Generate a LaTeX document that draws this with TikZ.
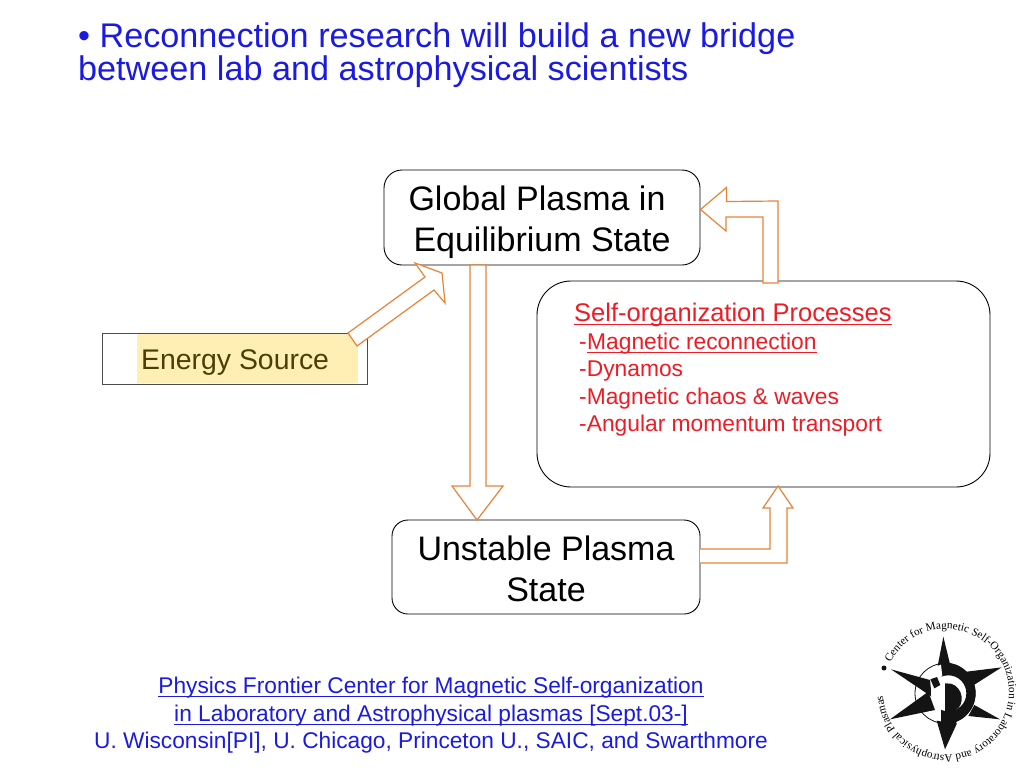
\documentclass[tikz,border=0pt]{standalone}
\usepackage{fontspec}
\setmainfont{Liberation Sans}
\newfontfamily\logofont{Liberation Serif}
\usetikzlibrary{positioning,calc,decorations.text}
\definecolor{sl-blue}{HTML}{1A1AE0}
\definecolor{sl-red}{HTML}{EE1C25}
\definecolor{sl-orange}{HTML}{E8833A}
\definecolor{sl-sand}{HTML}{FFEFB5}
\definecolor{sl-olive}{HTML}{4A3F05}
\definecolor{sl-ink}{HTML}{141414}

\begin{document}
\begin{tikzpicture}[
  x=1pt,y=-1pt,
  statebox/.style={draw=black,line width=0.9pt,fill=white,inner sep=0pt},
  statetxt/.style={inner sep=0pt,align=center,font=\fontsize{34}{41}\selectfont},
  blockar/.style={draw=sl-orange,line width=1.2pt,fill=white,line join=miter},
  titletxt/.style={anchor=base west,text=sl-blue,inner sep=0pt,font=\fontsize{34.2}{33}\selectfont},
  redtxt/.style={anchor=base west,text=sl-red,inner sep=0pt,font=\fontsize{22.8}{27}\selectfont},
  linktxt/.style={anchor=base,text=sl-blue,inner sep=0pt,font=\fontsize{22.7}{28}\selectfont},
  ulred/.style={draw=sl-red,line width=1pt},
  ulblue/.style={draw=sl-blue,line width=1pt},
  logoblack/.style={fill=sl-ink,draw=none}
]
\useasboundingbox (0,0) rectangle (1024,768);

% title
\node[titletxt] (tone) at (78,48) {\textbullet\ Reconnection research will build a new bridge};
\node[titletxt] (ttwo) at (78,80) {between lab and astrophysical scientists};

% energy source
\node[draw=black!70,line width=0.9pt,minimum width=265pt,minimum height=51pt,inner sep=0pt] (src) at (234.5,358.5) {};
\node[fill=sl-sand,minimum width=221pt,minimum height=49pt,inner sep=0pt] (srcfill) at (247.5,358.5) {};
\node[anchor=base west,text=sl-olive,inner sep=0pt,font=\fontsize{28.4}{30}\selectfont] (srctxt) at (141,369) {Energy Source};

% plasma states
\node[statebox,rounded corners=18pt,minimum width=316pt,minimum height=95pt] (gp) at (542,217.5) {};
\node[statetxt] (gptxt) at (542,222) {Global Plasma in\hbox to 10pt{}\\ Equilibrium State};
\node[statebox,rounded corners=16pt,minimum width=308pt,minimum height=94pt] (us) at (546,567) {};
\node[statetxt] (ustxt) at (546,569) {Unstable Plasma\\ State};
\node[statebox,rounded corners=34pt,minimum width=453pt,minimum height=206pt] (so) at (763.5,384) {};

% processes
\node[redtxt,font=\fontsize{25.5}{30}\selectfont] (sohead) at (574,321) {Self-organization Processes};
\node[redtxt] (soadash) at (579,349) {-};
\node[redtxt] (soa) at (soadash.base east) {Magnetic reconnection};
\node[redtxt] (sob) at (579,376) {-Dynamos};
\node[redtxt] (soc) at (579,404) {-Magnetic chaos \& waves};
\node[redtxt] (sod) at (579,431) {-Angular momentum transport};
\draw[ulred] ([yshift=-3.5pt]sohead.base west) -- ([yshift=-3.5pt]sohead.base east);
\draw[ulred] ([yshift=-3pt]soa.base west) -- ([yshift=-3pt]soa.base east);

% block arrows
\draw[blockar] (gp.east) ++(0,-8) coordinate (gptip) -- ++(26,-22) -- ++(0,14) -- (778,201)
  -- (778,283) -- (763,283) -- (763,217) -- (726,217) -- (726,231) -- cycle;
\draw[blockar] (470,265) -- (470,486) -- (452,486) -- (477,520) coordinate (ustip) -- (503,486) -- (486,486) -- (486,265) -- cycle;
\draw[blockar] (700,549) -- (770,549) -- (770,508) -- (763,508) -- (778,486) coordinate (sotip)
  -- (793,508) -- (787,508) -- (787,563) -- (700,563);
\draw[blockar] (348,333) -- (425,277) -- (415,263) -- (442,273) coordinate (eptip) -- (445,303) -- (434,290) -- (357,346) -- cycle;

% footer
\node[linktxt] (fa) at (431,693) {Physics Frontier Center for Magnetic Self-organization};
\node[linktxt] (fb) at (431,721) {in Laboratory and Astrophysical plasmas [Sept.03-]};
\node[linktxt] (fc) at (431,748) {U. Wisconsin[PI], U. Chicago, Princeton U., SAIC, and Swarthmore};
\draw[ulblue] ([yshift=-3.5pt]fa.base west) -- ([yshift=-3.5pt]fa.base east);
\draw[ulblue] ([yshift=-3pt]fb.base west) -- ([yshift=-3pt]fb.base east);

% logo
\begin{scope}[shift={(885,630)},x=0.3333pt,y=-0.3333pt]
  \fill[logoblack] (175,20) -- (158,108) -- (195,102) -- cycle;
  \fill[logoblack] (350,112) -- (245,125) -- (262,168) -- cycle;
  \fill[logoblack] (345,268) -- (268,225) -- (250,258) -- cycle;
  \fill[logoblack] (180,358) -- (155,272) -- (215,282) -- cycle;
  \fill[logoblack] (18,118) -- (135,150) -- (140,200) -- cycle;
  \fill[logoblack] (15,268) -- (130,185) -- (150,240) -- cycle;
  \draw[sl-ink,line width=0.8pt] (180,190) circle (90);
  \begin{scope}
    \clip (168,90) rectangle (290,290);
    \fill[logoblack,even odd rule] (180,190) circle (92) (190,190) circle (54);
  \end{scope}
  \fill[white] (190,190) circle (52);
  \fill[white] (150,110) -- (168,104) -- (172,140) -- (150,140) -- cycle;
  \fill[logoblack] (136,148) -- (156,141) -- (166,165) -- (148,175) -- cycle;
  \fill[logoblack] (180,160) -- (198,161) .. controls (236,172) and (240,226) .. (212,240)
    -- (208,252) -- (215,282) -- (180,285) -- cycle;
\end{scope}
\fill[sl-ink] (884,668) circle (2.5);
\path[postaction={decorate,decoration={text along path,
      text={|\logofont\fontsize{11.2}{12}\selectfont|Center for Magnetic Self-Organization in Laboratory and Astrophysical Plasmas}}}]
  (946,692) ++(-152:63) arc (-152:181:63);
\end{tikzpicture}
\end{document}
